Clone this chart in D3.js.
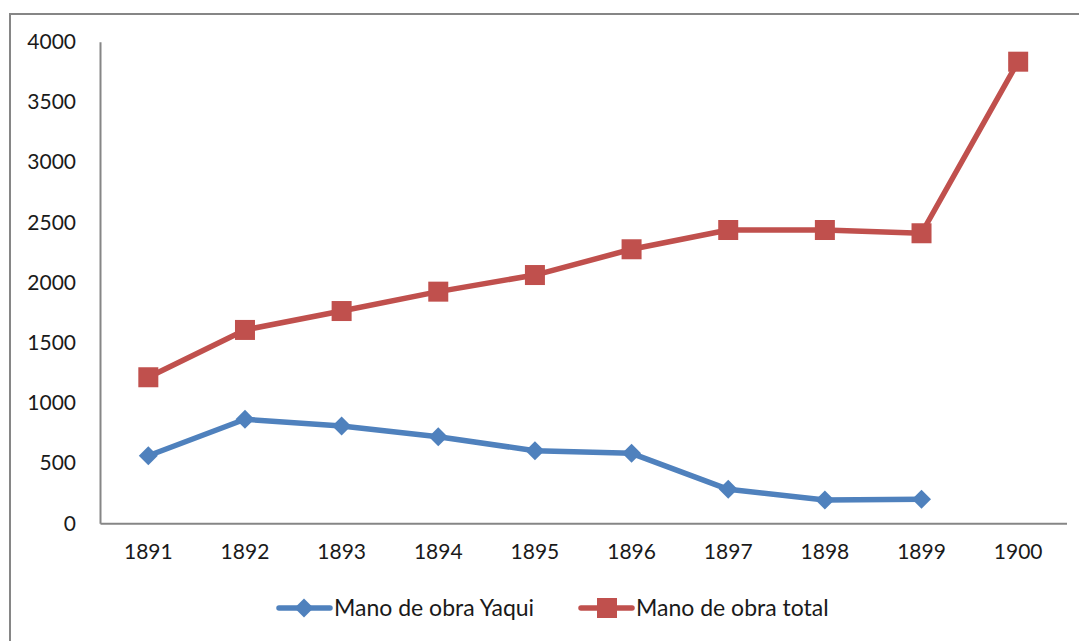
<!DOCTYPE html>
<html>
<head>
<meta charset="utf-8">
<script src="https://cdn.jsdelivr.net/npm/d3@7"></script>
<style>
  html, body { margin: 0; padding: 0; background: #ffffff; }
  svg { display: block; }
  text { font-family: Lato, "Open Sans", sans-serif; fill: #1a1a1a; }
</style>
</head>
<body>
<svg id="chart" width="1079" height="641"></svg>
<script>
// Years on the category axis
const years = ["1891", "1892", "1893", "1894", "1895", "1896", "1897", "1898", "1899", "1900"];
// Yaqui labour force (no figure for 1900)
const yaquiValues = [561, 864, 808, 719, 603, 581, 282, 194, 199, null];
// Total labour force
const totalValues = [1213, 1606, 1763, 1924, 2062, 2276, 2436, 2436, 2409, 3834];
// Value axis ticks
const yTicks = [0, 500, 1000, 1500, 2000, 2500, 3000, 3500, 4000];
const seriesNames = ["Mano de obra Yaqui", "Mano de obra total"];

const svg = d3.select("#chart");
const W = 1079, H = 641;
const plot = { left: 100, right: 1066.5, top: 41.7, bottom: 523.3 };

// Outer chart frame
svg.append("rect")
  .attr("x", 10).attr("y", 14)
  .attr("width", W + 20).attr("height", H + 20)
  .attr("fill", "none").attr("stroke", "#868686").attr("stroke-width", 2);

const x = d3.scaleBand().domain(years).range([plot.left, plot.right]);
const y = d3.scaleLinear().domain([0, 4000]).range([plot.bottom, plot.top]);

// Y axis
const yAxis = svg.append("g")
  .attr("transform", `translate(${plot.left},0)`)
  .call(d3.axisLeft(y).tickValues(yTicks).tickFormat(d3.format("d")).tickSize(0).tickPadding(24));
yAxis.select(".domain").attr("stroke", "#868686").attr("stroke-width", 2);
yAxis.selectAll("text").attr("font-size", 21).attr("font-family", "Lato, sans-serif").attr("fill", "#1a1a1a");

// X axis
const xAxis = svg.append("g")
  .attr("transform", `translate(0,${plot.bottom})`)
  .call(d3.axisBottom(x).tickSize(0).tickPadding(21));
xAxis.select(".domain").attr("stroke", "#868686").attr("stroke-width", 2);
xAxis.selectAll("text").attr("font-size", 21).attr("font-family", "Lato, sans-serif").attr("fill", "#1a1a1a");

const cx = d => x(d) + x.bandwidth() / 2;
const blue = "#4F81BD", red = "#C0504D";

const line = d3.line()
  .defined(d => d.v !== null)
  .x(d => cx(d.year))
  .y(d => y(d.v));

const yaqui = years.map((yr, i) => ({ year: yr, v: yaquiValues[i] }));
const total = years.map((yr, i) => ({ year: yr, v: totalValues[i] }));

// Total series
svg.append("path").datum(total)
  .attr("d", line).attr("fill", "none")
  .attr("stroke", red).attr("stroke-width", 5.5).attr("stroke-linejoin", "round");
svg.append("g").selectAll("rect").data(total).join("rect")
  .attr("x", d => cx(d.year) - 10).attr("y", d => y(d.v) - 10)
  .attr("width", 20).attr("height", 20).attr("fill", red);

// Yaqui series
svg.append("path").datum(yaqui)
  .attr("d", line).attr("fill", "none")
  .attr("stroke", blue).attr("stroke-width", 5.5).attr("stroke-linejoin", "round");
const diamond = d3.symbol().type(d3.symbolSquare).size(180);
svg.append("g").selectAll("path").data(yaqui.filter(d => d.v !== null)).join("path")
  .attr("d", diamond)
  .attr("transform", d => `translate(${cx(d.year)},${y(d.v)}) rotate(45)`)
  .attr("fill", blue);

// Legend
const legendY = 608;
const legend = [
  { name: seriesNames[0], color: blue, x0: 279, shape: "diamond" },
  { name: seriesNames[1], color: red, x0: 581, shape: "square" }
];
legend.forEach(l => {
  const g = svg.append("g");
  g.append("line").attr("x1", l.x0).attr("x2", l.x0 + 51)
    .attr("y1", legendY).attr("y2", legendY)
    .attr("stroke", l.color).attr("stroke-width", 5.5).attr("stroke-linecap", "round");
  if (l.shape === "square") {
    g.append("rect").attr("x", l.x0 + 26 - 10).attr("y", legendY - 10)
      .attr("width", 20).attr("height", 20).attr("fill", l.color);
  } else {
    g.append("path").attr("d", diamond)
      .attr("transform", `translate(${l.x0 + 25},${legendY}) rotate(45)`)
      .attr("fill", l.color);
  }
  g.append("text").attr("x", l.x0 + 55).attr("y", legendY)
    .attr("dy", "0.36em").attr("font-size", 23).text(l.name);
});
</script>
</body>
</html>
